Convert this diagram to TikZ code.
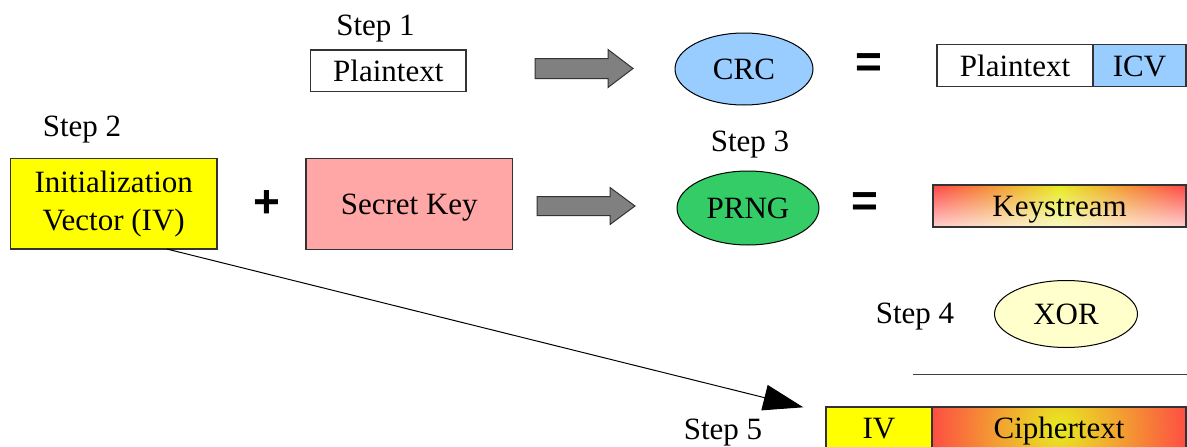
\documentclass[tikz,border=0pt]{standalone}
\usepackage{fontspec}
\setmainfont{Liberation Serif}
\newfontfamily\symfont{Liberation Sans}
\usetikzlibrary{shapes.geometric,arrows.meta,fadings}
\definecolor{ivyellow}{HTML}{FFFF00}
\definecolor{keypink}{HTML}{FFA6A6}
\definecolor{crcblue}{HTML}{99CCFF}
\definecolor{prnggreen}{HTML}{33CC66}
\definecolor{xorpale}{HTML}{FFFFCC}
\definecolor{arrowgrey}{HTML}{808080}
\definecolor{edgegrey}{HTML}{333333}
\definecolor{ksred}{HTML}{FF4545}
\definecolor{ksyellow}{HTML}{E8EC20}
\begin{document}
\begin{tikzpicture}[x=1pt,y=-1pt,
  every node/.style={font=\fontsize{31}{38}\selectfont, inner sep=0pt, outer sep=0pt},
  lbl/.style={anchor=base},
  boxtext/.style={text height=24pt, text depth=3pt},
  box/.style={draw=edgegrey, line width=1.3pt, rectangle, anchor=north west},
  oval/.style={boxtext, draw=black, line width=1pt, ellipse},
  sym/.style={font=\symfont\bfseries\fontsize{46}{46}\selectfont},
  blockarrow/.style={draw=black!80, line width=1pt, fill=arrowgrey, line join=miter},
  ivarrow/.style={draw=black, line width=1pt, -{Triangle[length=40pt,width=26pt]}},
  rule/.style={draw=black!75, line width=1.3pt},
]
\useasboundingbox (0,0) rectangle (1187,447);
\clip (0,0) rectangle (1187,447);

% Step 1
\node[lbl] (s1) at (375.5,35) {Step 1};
\node[box, boxtext, minimum width=155.5pt, minimum height=41.5pt] (pt) at (310.5,50) {Plaintext};
\draw[blockarrow] (535,58.5) -- (608,58.5) -- (608,49.5) -- (633,68.5) -- (608,87.5) -- (608,78.5) -- (535,78.5) -- cycle;
\node[oval, fill=crcblue, minimum width=138pt, minimum height=72pt] (crc) at (744,69) {CRC};
\node[sym] (eq1) at (869,66) {=};
\node[box, boxtext, minimum width=156pt, minimum height=42pt] (pt2) at (937,44.5) {Plaintext};
\node[box, boxtext, fill=crcblue, minimum width=93pt, minimum height=42pt] (icv) at (1093,44.5) {ICV};

% Step 2 and 3
\node[lbl] (s2) at (82,136.7) {Step 2};
\node[box, fill=ivyellow, minimum width=206.5pt, minimum height=90.5pt, align=center] (iv) at (10.5,158.5) {Initialization\\Vector (IV)};
\node[sym] (plus) at (267,204) {+};
\node[box, boxtext, fill=keypink, minimum width=206.5pt, minimum height=91pt] (key) at (306,158.5) {Secret Key};
\draw[blockarrow] (537,196.5) -- (610,196.5) -- (610,187.5) -- (635,206) -- (610,224.5) -- (610,215.5) -- (537,215.5) -- cycle;
\node[lbl] (s3) at (750,151.7) {Step 3};
\node[oval, fill=prnggreen, minimum width=142pt, minimum height=74pt] (prng) at (748,208) {PRNG};
\node[sym] (eq2) at (865,205) {=};
\node[box, left color=ksred, right color=ksred, middle color=ksyellow, minimum width=253pt, minimum height=42pt] (ks) at (933,185) {};
\fill[white, path fading=north, fill opacity=0.75] (ks.north west) rectangle (ks.south east);
\draw[edgegrey, line width=1.3pt] (ks.north west) rectangle (ks.south east);
\node[boxtext] at (ks.center) {Keystream};

% Step 4
\node[lbl] (s4) at (915,323.3) {Step 4};
\node[oval, fill=xorpale, minimum width=143pt, minimum height=67pt] (xor) at (1066,314) {XOR};
\coordinate (ruleL) at (912.7,374.3);
\coordinate (ruleR) at (1187,374.3);
\draw[rule] (ruleL) -- (ruleR);

% Step 5
\node[lbl] (s5) at (723,439.3) {Step 5};
\node[box, boxtext, fill=ivyellow, minimum width=106pt, minimum height=42pt] (ivb) at (826,407) {IV};
\node[box, minimum width=254pt, minimum height=42pt,
  path picture={\shade[inner color=ksyellow, outer color=ksred] (path picture bounding box.center) circle (135pt);}] (ct) at (932,407) {};
\node[boxtext] at (ct.center) {Ciphertext};

% IV connector
\coordinate (ivtip) at (803.3,407.3);
\draw[ivarrow] ([xshift=53pt]iv.south) -- (ivtip);
\end{tikzpicture}
\end{document}
